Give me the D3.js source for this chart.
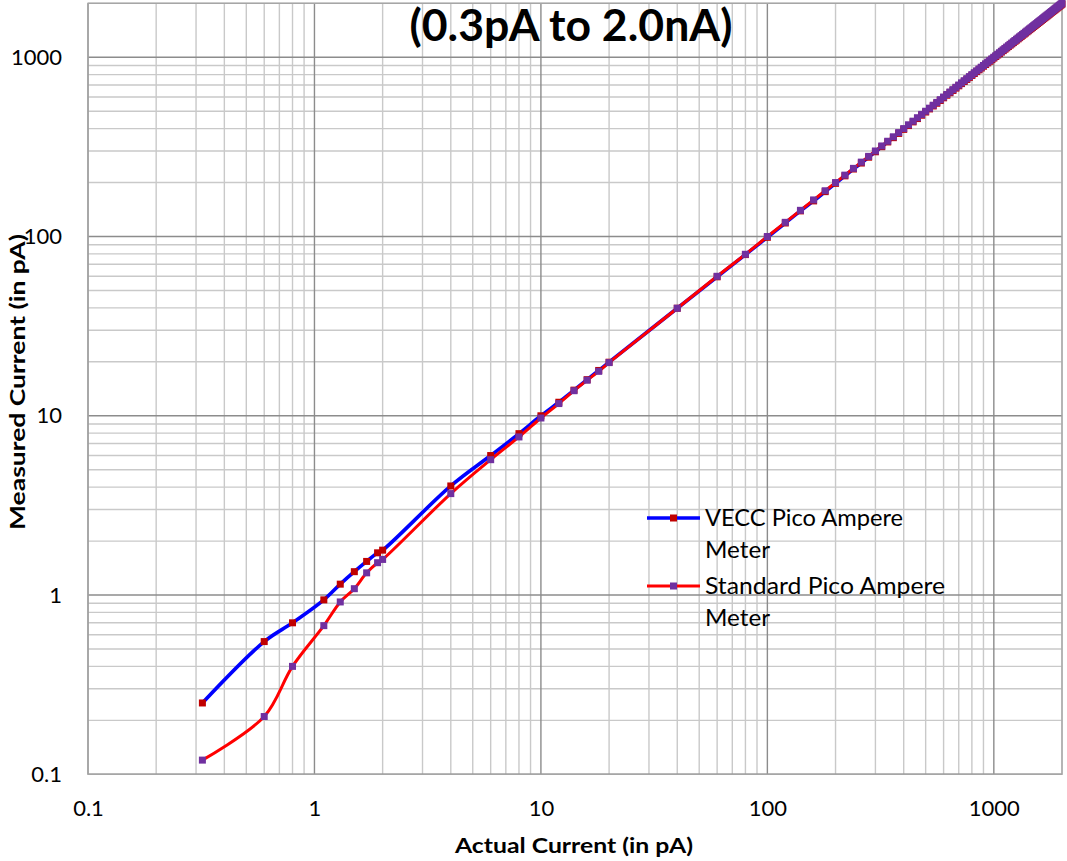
<!DOCTYPE html>
<html><head><meta charset="utf-8">
<script src="https://cdn.jsdelivr.net/npm/d3@7"></script>
<style>body{margin:0;background:#fff}svg{display:block}</style>
</head><body><svg id="c" width="1067" height="861"></svg>
<script>
// ---- data ----
const actualCurrent = [0.32,0.6,0.8,1.1,1.3,1.5,1.7,1.9,2,4,6,8,10,12,14,16,18,20,40,60,80,
100,120,140,160,180,200,220,240,260,280,300,320,340,360,380,400,420,440,460,480,500,520,540,560,580,600,
620,640,660,680,700,720,740,760,780,800,820,840,860,880,900,920,940,960,980,1000,1020,1040,1060,1080,1100,
1120,1140,1160,1180,1200,1220,1240,1260,1280,1300,1320,1340,1360,1380,1400,1420,1440,1460,1480,1500,1520,
1540,1560,1580,1600,1620,1640,1660,1680,1700,1720,1740,1760,1780,1800,1820,1840,1860,1880,1900,1920,1940,
1960,1980,2000];
const veccMeasured = [0.25,0.55,0.70,0.94,1.15,1.35,1.54,1.72,1.78,4.06,6.0,7.95,10.0,11.9,13.9,15.9,17.9,19.9,39.8,59.6,79.3,
99,119,139,158,178,198,218,238,257,277,297,317,337,356,376,396,416,436,455,475,495,515,535,554,574,594,
614,634,653,673,693,713,733,752,772,792,812,832,851,871,891,911,931,950,970,990,1010,1030,1049,1069,1089,
1109,1129,1148,1168,1188,1208,1228,1247,1267,1287,1307,1327,1346,1366,1386,1406,1426,1445,1465,1485,1505,
1525,1544,1564,1584,1604,1624,1643,1663,1683,1703,1723,1742,1762,1782,1802,1822,1841,1861,1881,1901,1921,
1940,1960,1980];
const standardMeasured = [0.12,0.21,0.40,0.675,0.915,1.085,1.33,1.515,1.58,3.68,5.69,7.62,9.72,11.7,13.8,15.8,17.7,19.8,39.8,60,79.6,
100,120,140,160,180,200,220,240,260,280,300,320,340,360,380,400,420,440,460,480,500,520,540,560,580,600,
620,640,660,680,700,720,740,760,780,800,820,840,860,880,900,920,940,960,980,1000,1020,1040,1060,1080,1100,
1120,1140,1160,1180,1200,1220,1240,1260,1280,1300,1320,1340,1360,1380,1400,1420,1440,1460,1480,1500,1520,
1540,1560,1580,1600,1620,1640,1660,1680,1700,1720,1740,1760,1780,1800,1820,1840,1860,1880,1900,1920,1940,
1960,1980,2000];
const tickValues = [0.1,1,10,100,1000];
const tickLabels = ["0.1","1","10","100","1000"];
const titleText = "(0.3pA to 2.0nA)";
const xTitle = "Actual Current (in pA)";
const yTitle = "Measured Current (in pA)";

// ---- layout ----
const svg = d3.select("#c");
const L=88, R=1062, T=3.3, B=774.3;
const x = d3.scaleLog().domain([0.1,2000]).range([L,R]);
const y = d3.scaleLog().domain([0.1,2000]).range([B,T]);
const font = "Lato, 'Open Sans', sans-serif";

// grid
const minor=[];
for (let d=0.1; d<2000; d*=10) for (let k=2;k<=9;k++){ const v=+(d*k).toPrecision(3); if(v<=2000) minor.push(v);}
const g = svg.append("g");
g.selectAll("line.vx").data(minor).join("line").attr("x1",d=>x(d)).attr("x2",d=>x(d)).attr("y1",T).attr("y2",B)
 .attr("stroke","#c9c9c9").attr("stroke-width",1.4);
g.selectAll("line.hy").data(minor).join("line").attr("y1",d=>y(d)).attr("y2",d=>y(d)).attr("x1",L).attr("x2",R)
 .attr("stroke","#c9c9c9").attr("stroke-width",1.4);
g.selectAll("line.mx").data(tickValues).join("line").attr("x1",d=>x(d)).attr("x2",d=>x(d)).attr("y1",T).attr("y2",B)
 .attr("stroke","#8c8c8c").attr("stroke-width",1.4);
g.selectAll("line.my").data(tickValues).join("line").attr("y1",d=>y(d)).attr("y2",d=>y(d)).attr("x1",L).attr("x2",R)
 .attr("stroke","#8c8c8c").attr("stroke-width",1.4);
svg.append("rect").attr("x",L).attr("y",T).attr("width",R-L).attr("height",B-T).attr("fill","none").attr("stroke","#a6a6a6").attr("stroke-width",1.4);

// axes labels via d3 axes
const xAxis = svg.append("g").attr("transform",`translate(0,${B})`)
 .call(d3.axisBottom(x).tickValues(tickValues).tickFormat((d,i)=>tickLabels[i]).tickSize(0).tickPadding(26));
const yAxis = svg.append("g").attr("transform",`translate(${L},0)`)
 .call(d3.axisLeft(y).tickValues(tickValues).tickFormat((d,i)=>tickLabels[i]).tickSize(0).tickPadding(26));
[xAxis,yAxis].forEach(a=>{a.select(".domain").remove(); a.selectAll("text").attr("font-family",font).attr("font-size",22).attr("fill","#000");});

// lines
const pts = (ys)=>actualCurrent.map((d,i)=>[d,ys[i]]);
const line = d3.line().x(d=>x(d[0])).y(d=>y(d[1])).curve(d3.curveCatmullRom.alpha(0.5));
const series = [
 {vals:veccMeasured, stroke:"#0000ff", sw:3.6, mk:"#c00000"},
 {vals:standardMeasured, stroke:"#ff0000", sw:3, mk:"#7030a0"}
];
series.forEach(s=>{
  svg.append("path").attr("d",line(pts(s.vals))).attr("fill","none").attr("stroke",s.stroke).attr("stroke-width",s.sw);
});
series.forEach(s=>{
  svg.append("g").selectAll("rect").data(pts(s.vals)).join("rect")
   .attr("x",d=>x(d[0])-3.5).attr("y",d=>y(d[1])-3.5).attr("width",7).attr("height",7).attr("fill",s.mk);
});

// legend
const lg = svg.append("g");
const legRows = [{y:518, s:series[0], l1:"VECC Pico Ampere", w1:198, l2:"Meter"},{y:586, s:series[1], l1:"Standard Pico Ampere", w1:240, l2:"Meter"}];
legRows.forEach(r=>{
  lg.append("line").attr("x1",647).attr("x2",700).attr("y1",r.y).attr("y2",r.y).attr("stroke",r.s.stroke).attr("stroke-width",r.s.sw);
  lg.append("rect").attr("x",670).attr("y",r.y-3.5).attr("width",7).attr("height",7).attr("fill",r.s.mk);
  lg.append("text").attr("x",705).attr("y",r.y+8).text(r.l1).attr("font-family",font).attr("font-size",23)
    .attr("textLength",r.w1).attr("lengthAdjust","spacingAndGlyphs");
  lg.append("text").attr("x",705).attr("y",r.y+40).text(r.l2).attr("font-family",font).attr("font-size",23)
    .attr("textLength",65).attr("lengthAdjust","spacingAndGlyphs");
});

// titles
svg.append("text").attr("x",571).attr("y",41).attr("text-anchor","middle").text(titleText)
 .attr("font-family",font).attr("font-weight","bold").attr("font-size",43)
 .attr("textLength",323).attr("lengthAdjust","spacingAndGlyphs");
svg.append("text").attr("x",574).attr("y",853).attr("text-anchor","middle").text(xTitle)
 .attr("font-family",font).attr("font-weight","bold").attr("font-size",21)
 .attr("textLength",238).attr("lengthAdjust","spacingAndGlyphs");
svg.append("text").attr("transform","translate(25,382) rotate(-90)").attr("text-anchor","middle").text(yTitle)
 .attr("font-family",font).attr("font-weight","bold").attr("font-size",21)
 .attr("textLength",296).attr("lengthAdjust","spacingAndGlyphs");
</script></body></html>
